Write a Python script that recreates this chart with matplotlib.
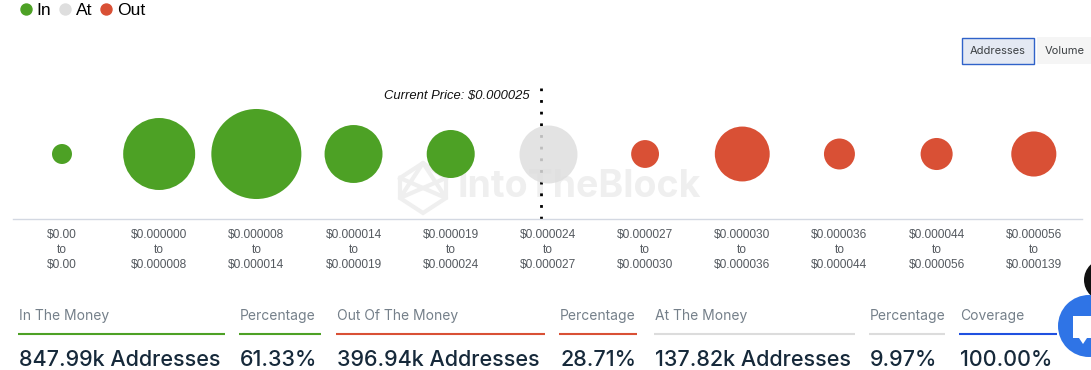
import numpy as np
import matplotlib
matplotlib.use("Agg")
import matplotlib.pyplot as plt
from matplotlib.patches import Circle, Rectangle, Polygon

# ---------- dados ----------
low_labels = ["$0.00", "$0.000000", "$0.000008", "$0.000014", "$0.000019", "$0.000024",
              "$0.000027", "$0.000030", "$0.000036", "$0.000044", "$0.000056"]
high_labels = ["$0.00", "$0.000008", "$0.000014", "$0.000019", "$0.000024", "$0.000027",
               "$0.000030", "$0.000036", "$0.000044", "$0.000056", "$0.000139"]
addresses_k = [17.5, 227, 355, 147, 101, 147, 34, 132, 42, 45, 89]
status = ["In", "In", "In", "In", "In", "At", "Out", "Out", "Out", "Out", "Out"]
current_price_pos = 4.93

stat_titles = ["In The Money", "Percentage", "Out Of The Money", "Percentage",
               "At The Money", "Percentage", "Coverage"]
stat_values = ["847.99k Addresses", "61.33%", "396.94k Addresses", "28.71%",
               "137.82k Addresses", "9.97%", "100.00%"]
stat_left = [19, 240, 337, 560, 655, 870, 960]
stat_right = [225, 321, 545, 637, 855, 945, 1057]

GREEN = "#4da125"
RED = "#d95035"
GRAY = "#dedede"
colors = {"In": GREEN, "At": GRAY, "Out": RED}
stat_colors = [GREEN, GREEN, RED, RED, "#dcdcdc", "#dcdcdc", "#1f50e0"]

W, H = 1091, 370
DPI = 100
PX = 72 / DPI
SANS = ["Liberation Sans", "DejaVu Sans"]
INTER = ["Inter", "DejaVu Sans"]

fig = plt.figure(figsize=(W / DPI, H / DPI), dpi=DPI)

# camada de página, em pixels
page = fig.add_axes([0, 0, 1, 1], zorder=0)
page.set_xlim(0, W); page.set_ylim(H, 0); page.axis("off")

# marca d'água
page.text(457, 187, "IntoTheBlock", fontsize=27, fontweight="bold", color="#efefef",
          ha="left", va="center", family=INTER)
logo = [(400, 178), (423, 163), (446, 178), (446, 198), (423, 213), (400, 198)]
page.add_patch(Polygon(logo, closed=True, fill=False, ec="#efefef", lw=3))
page.plot([400, 446, 423, 400, 446], [178, 198, 163, 198, 178], color="#efefef", lw=3)

# gráfico de bolhas
ax = fig.add_axes([13.4 / W, 1 - 219 / H, 1069 / W, 134 / H], zorder=1)
ax.patch.set_alpha(0)
x = np.arange(len(addresses_k))
ax.set_xlim(-0.5, 10.5)
ax.set_ylim(-1, 1)
y_mid = 1 - 2 * (154 - 85) / 134
ax.plot([current_price_pos] * 2, [-1, 0.96], color="black", lw=2, ls=(0, (1, 3.2)), zorder=1)
ax.text(current_price_pos - 0.115, 0.84, "Current Price: $0.000025", style="italic", fontsize=9.4,
        ha="right", va="center", color="#111111", family=SANS)
for st in ("In", "At", "Out"):
    idx = [i for i, s in enumerate(status) if s == st]
    sizes = [addresses_k[i] / 0.0438 * PX ** 2 for i in idx]
    ax.scatter(x[idx], [y_mid] * len(idx), s=sizes, color=colors[st], linewidths=0,
               alpha=0.85 if st == "At" else 1, zorder=2, label=st, clip_on=False)

ax.set_xticks(x)
ax.set_xticklabels([f"{a}\nto\n{b}" for a, b in zip(low_labels, high_labels)],
                   fontsize=8.6, color="#555a60", family=SANS, linespacing=1.33)
ax.tick_params(axis="x", length=0, pad=7.5)
ax.set_yticks([])
for s in ("top", "left", "right"):
    ax.spines[s].set_visible(False)
ax.spines["bottom"].set_color("#d3d8e2")
ax.spines["bottom"].set_linewidth(1)

handles = [plt.Line2D([], [], marker="o", ls="", ms=10 * PX * 1.1, color=colors[k]) for k in colors]
fig.legend(handles, list(colors), loc="upper left", bbox_to_anchor=(7 / W, 1 + 6 / H), ncol=3,
           frameon=False, handletextpad=0.0, columnspacing=0.2,
           borderpad=0, handlelength=1.2, prop={"family": SANS, "size": 12.6})

# botões
over = fig.add_axes([0, 0, 1, 1], zorder=2)
over.set_xlim(0, W); over.set_ylim(H, 0); over.axis("off")
over.add_patch(Rectangle((961.5, 37.5), 72, 26, fc="#e4e9f3", ec="#2f62c9", lw=1))
over.text(997.5, 50.5, "Addresses", fontsize=8, ha="center", va="center", color="#3c4043", family=INTER)
over.add_patch(Rectangle((1037, 37), 54, 27, fc="#f5f5f5", ec="none"))
over.text(1065, 50.5, "Volume", fontsize=8, ha="center", va="center", color="#3c4043", family=INTER)

# tabela de resumo
for title, val, x0, x1, c in zip(stat_titles, stat_values, stat_left, stat_right, stat_colors):
    over.text(x0, 316, title, fontsize=10, ha="left", va="center", color="#75808a", family=INTER)
    over.plot([x0 - 1, x1], [334, 334], color=c, lw=1.5, solid_capstyle="butt")
    over.text(x0, 360, val, fontsize=15.5, fontweight="medium", ha="left", va="center",
              color="#16293a", family=INTER)

# botões flutuantes de chat
over.add_patch(Circle((1105, 280), 21, fc="#111111", ec="none", clip_on=True))
over.add_patch(Circle((1089, 326), 31, fc="#2f74e6", ec="none", clip_on=True))
over.add_patch(Rectangle((1073, 316), 18, 22, fc="white", ec="none"))
over.add_patch(Polygon([(1079, 338), (1087, 338), (1083, 344)], closed=True, fc="white", ec="none"))

fig.savefig("out.png", dpi=DPI)
